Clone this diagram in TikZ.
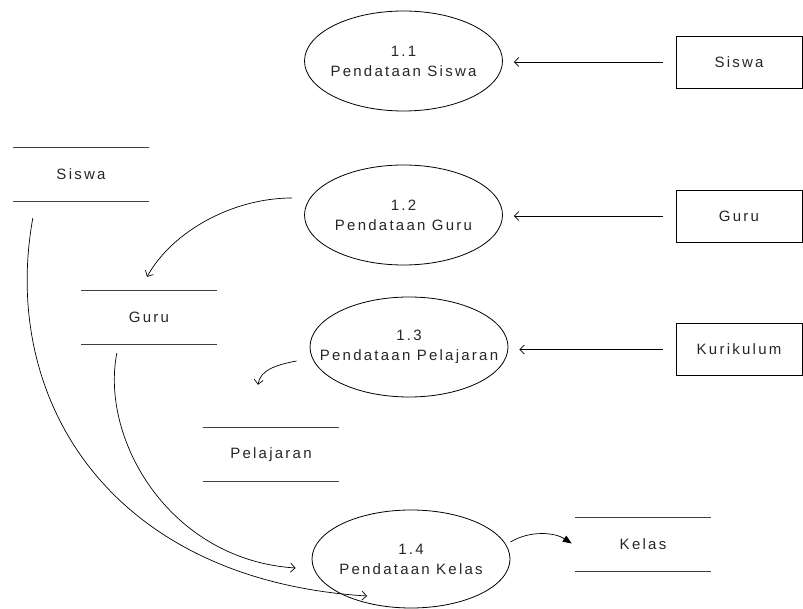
\documentclass[tikz,border=0pt]{standalone}
\usepackage{fontspec}
\setmainfont{Liberation Sans}[LetterSpace=15]
\usetikzlibrary{shapes.geometric,arrows.meta,calc}
\begin{document}
\begin{tikzpicture}[x=1pt,y=-1pt,
  every node/.style={font=\fontsize{15}{20}\selectfont, text=black!85},
  proc/.style={draw, ellipse, minimum width=198pt, minimum height=100pt, inner sep=0pt, line width=0.8pt},
  proctext/.style={align=center, inner sep=0pt},
  entity/.style={draw, minimum width=126pt, minimum height=52pt, line width=0.8pt},
  storeline/.style={draw=black!75, line width=0.8pt},
  store/.style={minimum width=136pt, minimum height=53pt,
    append after command={
      (\tikzlastnode.north west) edge[storeline] (\tikzlastnode.north east)
      (\tikzlastnode.south west) edge[storeline] (\tikzlastnode.south east)}},
  flow/.style={-{Straight Barb[length=4.5pt,width=9pt]}, line width=0.7pt},
  solidflow/.style={-{Triangle[length=9pt,width=7pt]}, line width=0.7pt}
]
\useasboundingbox (0,0) rectangle (803,609);

% processes
\node[proc] (p11) at (403.5,61) {};
\node[proctext] (p11t) at (p11) {1.1\\Pendataan Siswa};
\node[proc] (p12) at (403.5,215) {};
\node[proctext] (p12t) at (p12) {1.2\\Pendataan Guru};
\node[proc] (p13) at (409,347) {};
\node[proctext] (p13t) at (p13) {1.3\\Pendataan Pelajaran};
\node[proc, minimum height=98pt] (p14) at (411,559) {};
\node[proctext] (p14t) at (p14) {1.4\\Pendataan Kelas};

% external entities
\node[entity] (e1) at (739,62) {Siswa};
\node[entity] (e2) at (739,216) {Guru};
\node[entity] (e3) at (739,349.5) {Kurikulum};

% data stores
\node[store] (s1) at (81,174.5) {Siswa};
\node[store] (s2) at (149,317.5) {Guru};
\node[store] (s3) at (271,454.5) {Pelajaran};
\node[store] (s4) at (643,544.5) {Kelas};

% entity inputs
\draw[flow, shorten <=13pt, shorten >=11pt] (e1.west) -- (p11.east |- e1.west);
\draw[flow, shorten <=13pt, shorten >=11pt] (e2.west) -- (p12.east |- e2.west);
\draw[flow, shorten <=13pt, shorten >=11pt] (e3.west) -- (p13.east |- e3.west);

% process outputs to stores
\draw[flow] ($(p12.west)+(-12,-17)$) .. controls +(-60,0) and +(25,-45) .. ($(s2.north)+(-2,-14)$);
\draw[flow] ($(p13.west)+(-13,14)$) .. controls +(-22,4) and +(2,-14) .. ($(s3.north)+(-13,-43)$);
\draw[solidflow] ($(p14.east)+(0,-17)$) .. controls +(20,-12) and +(-17,-11) .. ($(s4.west)+(-3,-1)$);

% stores read by 1.4
\draw[flow] ($(s1.south west)+(20,17)$) .. controls (0,400) and (110,580) .. ($(p14.center)+(-44,37)$);
\draw[flow] ($(s2.south west)+(36,9)$) .. controls (100,440) and (170,560) .. ($(p14.west)+(-16,9)$);
\end{tikzpicture}
\end{document}
